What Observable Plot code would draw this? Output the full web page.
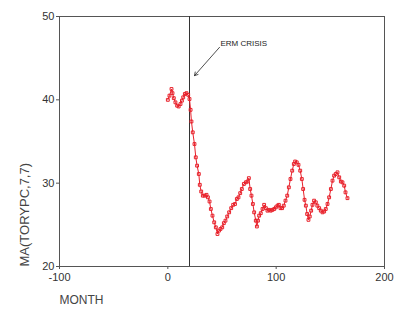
<!DOCTYPE html>
<html><head><meta charset="utf-8">
<script src="https://cdn.jsdelivr.net/npm/d3@7"></script>
<script src="https://cdn.jsdelivr.net/npm/@observablehq/plot@0.6"></script>
<style>body{margin:0;background:#fff}</style>
</head><body><div id="chart"></div>
<script>
const months = [0,1.5,3.4,4.3,5.5,7,8.6,10,11.7,13,14.2,15.7,17.2,18.8,20,21,21.8,23,24.6,25.8,27,28.6,29.5,30.8,32.3,34,35.7,37,38.5,39.7,41.2,42.8,44.3,45.8,47.2,48.6,50.2,51.7,53.2,54.8,56.6,58.5,60.3,62,63.7,65.2,66.8,68.3,70.2,72,73.5,74.8,76,77.2,78.5,79.7,81.2,82.2,83.2,84.3,85.8,87.4,88.9,90.5,92,93.5,95,96.6,98.2,99.7,101.2,102.5,104,105.5,107,108.6,110.2,111.7,113.2,114.8,116.3,117.5,119,120.6,122.2,123.7,124.9,126.2,127.4,128.6,129.8,131,132.3,133.5,135,136.6,138,139.7,141.2,142.8,144.3,145.8,147.4,148.9,150.5,152,153.5,155,156.6,158.2,159.7,161.2,162.8,164,165.8];
const values = [40.0,40.5,41.3,40.8,40.2,39.7,39.3,39.2,39.5,39.9,40.3,40.7,40.8,40.6,40.1,38.8,37.4,36.1,34.7,33.1,32.1,31.1,29.8,29.0,28.5,28.5,28.6,28.3,27.8,26.9,26.1,25.3,24.7,23.9,24.3,24.5,24.7,25.2,25.5,26.0,26.5,27.0,27.4,27.5,28.1,28.3,28.8,29.3,29.9,30.1,30.2,30.6,29.3,28.5,27.5,26.5,25.5,24.8,25.5,26.1,26.4,26.9,27.4,27.0,26.7,26.8,26.7,26.8,26.9,27.1,27.3,27.4,27.0,27.0,27.3,27.9,28.5,29.5,30.5,31.5,32.3,32.6,32.5,32.2,31.5,30.5,29.3,28.0,27.3,26.3,25.6,26.0,26.7,27.4,27.9,27.7,27.3,27.0,26.7,26.5,26.6,26.9,27.5,28.3,29.3,30.3,30.9,31.1,31.3,30.7,30.2,30.1,29.7,28.9,28.2];
const xTicks = [-100,0,100,200];
const yTicks = [20,30,40,50];
const eventMonth = [20];
const annotText = ["ERM CRISIS"];
const annotPos = [{x:48.5, y:46.8}];
const arrowPos = [{x1:47.7, y1:46.3, x2:24.6, y2:42.9}];

const data = months.map((m,i)=>({month:m, value:values[i]}));
const font = "Arial, 'Liberation Sans', sans-serif";

const chart = Plot.plot({
  width: 400, height: 320,
  marginLeft: 59, marginRight: 16, marginTop: 16, marginBottom: 54,
  style: {fontFamily: font, fontSize: "11px", color: "#333", background: "#fff"},
  x: {domain: [-100, 200], ticks: xTicks, label: null},
  y: {domain: [20, 50], ticks: yTicks, label: null},
  marks: [
    Plot.frame({stroke: "#555"}),
    Plot.axisX({ticks: xTicks, tickFormat: d => String(d), tickSize: 3, tickPadding: 4, label: null, stroke: "#555", fill: "#333"}),
    Plot.axisY({ticks: yTicks, tickFormat: d => String(d), tickSize: 3, tickPadding: 2, label: null, stroke: "#555", fill: "#333"}),
    Plot.ruleX(eventMonth, {stroke: "#333", strokeWidth: 1}),
    Plot.line(data, {x: "month", y: "value", stroke: "#e8202a", strokeWidth: 1}),
    Plot.dot(data, {x: "month", y: "value", symbol: "square", r: 1.6, stroke: "#e8202a", fill: "none", strokeWidth: 1}),
    Plot.arrow(arrowPos, {x1: "x1", y1: "y1", x2: "x2", y2: "y2", stroke: "#222", strokeWidth: 0.8, headLength: 7, bend: 0}),
    Plot.text(annotText, {x: annotPos.map(d=>d.x), y: annotPos.map(d=>d.y), text: d=>d, textAnchor: "start", fontSize: 8, fill: "#222"}),
    Plot.text(["MONTH"], {frameAnchor: "bottom-left", dy: 37, textAnchor: "start", fontSize: 12, fill: "#444"}),
    Plot.text(["MA(TORYPC,7,7)"], {frameAnchor: "bottom-left", dx: -31, rotate: -90, textAnchor: "start", fontSize: 13, fill: "#444"})
  ]
});
document.getElementById("chart").appendChild(chart);
</script>
</body></html>
